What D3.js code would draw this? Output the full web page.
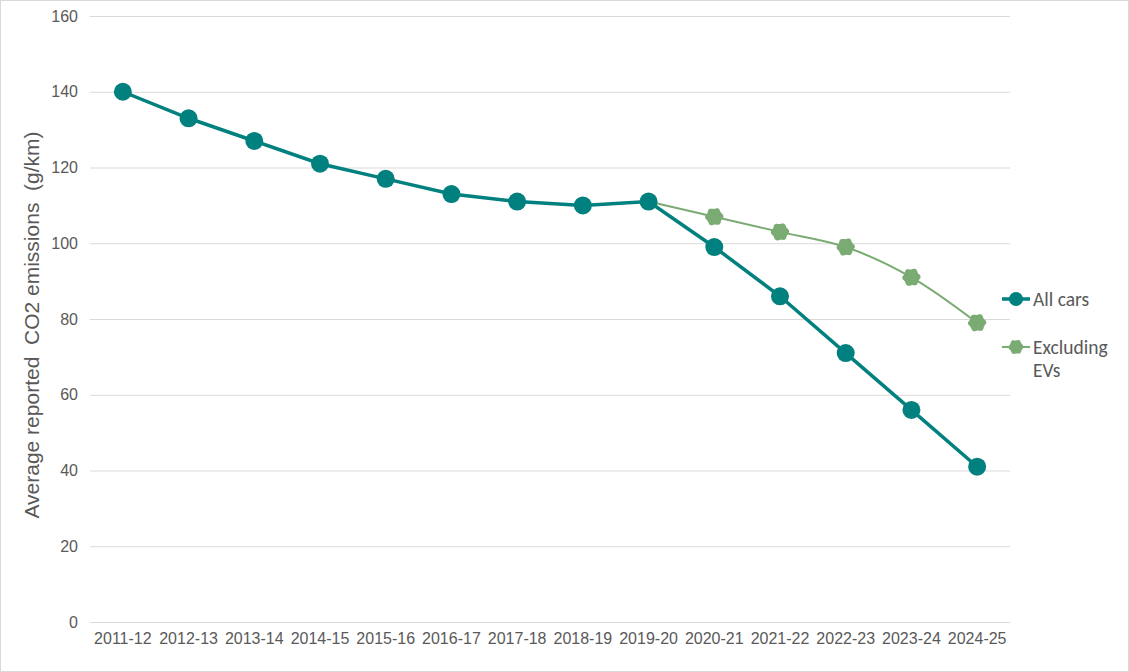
<!DOCTYPE html>
<html>
<head>
<meta charset="utf-8">
<script src="https://cdn.jsdelivr.net/npm/d3@7"></script>
<style>
  body { margin: 0; background: #fff; }
  svg { display: block; }
  .grid line { stroke: #d9d9d9; stroke-width: 1; }
  .axis text { fill: #595959; font-family: "Liberation Sans", Arial, sans-serif; font-size: 16px; }
</style>
</head>
<body>
<svg id="lineChart" width="1129" height="672"></svg>
<script>
const years = ["2011-12","2012-13","2013-14","2014-15","2015-16","2016-17","2017-18",
               "2018-19","2019-20","2020-21","2021-22","2022-23","2023-24","2024-25"];
const allCars = [140,133,127,121,117,113,111,110,111,99,86,71,56,41];
const exclYears = ["2019-20","2020-21","2021-22","2022-23","2023-24","2024-25"];
const exclEVs = [111,107,103,99,91,79];
const yTicks = [0,20,40,60,80,100,120,140,160];

const tealColor = "#00807e";
const greenColor = "#7aab72";

// blobby marker like the office "cloud" points
const blob = (r)=>{
    let pts = [];
    for(let i=0;i<24;i++){
        let a = i/24*Math.PI*2;
        let rr = r*(1+0.09*Math.cos(6*a+0.4));
        pts.push([Math.cos(a)*rr, Math.sin(a)*rr]);
    }
    return d3.line().curve(d3.curveCardinalClosed)(pts);
}

const drawChart = ()=>{
    let svg = d3.select("#lineChart");

    svg.append("rect")
    .attr("x",0.5).attr("y",0.5)
    .attr("width",1128).attr("height",671)
    .attr("fill","#fff").attr("stroke","#d9d9d9");

    let margin = {top:16, left:90, right:119, bottom:50};
    let width = svg.attr("width") - margin.left - margin.right;
    let height = svg.attr("height") - margin.top - margin.bottom;

    let g = svg.append("g").attr("transform","translate("+margin.left+","+margin.top+")");

    let xScale = d3.scaleBand().domain(years).range([0,width]);
    let yScale = d3.scaleLinear().domain([0,160]).range([height,0]);
    let cx = (d)=>xScale(d)+xScale.bandwidth()/2;

    g.append("g")
    .attr("class","grid")
    .selectAll("line")
    .data(yTicks)
    .enter().append("line")
    .attr("x1",0).attr("x2",width)
    .attr("y1",(d)=>yScale(d)+0.5).attr("y2",(d)=>yScale(d)+0.5);

    let yAxis = d3.axisLeft(yScale).tickValues(yTicks).tickSize(0).tickPadding(12);
    g.append("g").attr("class","y axis").call(yAxis).call((a)=>a.select(".domain").remove());

    let xAxis = d3.axisBottom(xScale).tickSize(0).tickPadding(11);
    g.append("g").attr("class","x axis")
    .attr("transform","translate(0,"+height+")")
    .call(xAxis).call((a)=>a.select(".domain").remove());

    g.append("text")
    .attr("transform","translate("+(-51)+","+(height/2+6)+") rotate(-90)")
    .attr("text-anchor","middle")
    .attr("font-family","Liberation Sans, Arial, sans-serif")
    .attr("font-size","21px")
    .attr("fill","#595959")
    .style("white-space","pre")
    .text("Average reported  CO2 emissions  (g/km)");

    // excluding EVs (smoothed)
    let exclData = exclYears.map((y,i)=>[y,exclEVs[i]]);
    let smooth = d3.line().x((d)=>cx(d[0])).y((d)=>yScale(d[1])).curve(d3.curveCatmullRom.alpha(0.5));
    g.append("path")
    .datum(exclData)
    .attr("d",smooth)
    .attr("fill","none").attr("stroke",greenColor).attr("stroke-width",2);

    // all cars
    let allData = years.map((y,i)=>[y,allCars[i]]);
    let line = d3.line().x((d)=>cx(d[0])).y((d)=>yScale(d[1]));
    g.append("path")
    .datum(allData)
    .attr("d",line)
    .attr("fill","none").attr("stroke",tealColor).attr("stroke-width",3.5);

    g.selectAll(".allpt")
    .data(allData)
    .enter().append("circle")
    .attr("class","allpt")
    .attr("cx",(d)=>cx(d[0])).attr("cy",(d)=>yScale(d[1]))
    .attr("r",9).attr("fill",tealColor);

    g.selectAll(".exclpt")
    .data(exclData.slice(1))
    .enter().append("path")
    .attr("class","exclpt")
    .attr("transform",(d)=>"translate("+cx(d[0])+","+yScale(d[1])+")")
    .attr("d",blob(8.5)).attr("fill",greenColor);

    // legend
    let legend = svg.append("g").attr("font-family","Carlito, Open Sans, sans-serif").attr("font-size","19.5px").attr("fill","#595959");
    let l1 = legend.append("g").attr("transform","translate(1002,299)");
    l1.append("line").attr("x1",0).attr("x2",28).attr("stroke",tealColor).attr("stroke-width",3.5);
    l1.append("circle").attr("cx",14).attr("r",7).attr("fill",tealColor);
    l1.append("text").attr("x",31).attr("dy","0.35em").text("All cars");

    let l2 = legend.append("g").attr("transform","translate(1002,347)");
    l2.append("line").attr("x1",0).attr("x2",28).attr("stroke",greenColor).attr("stroke-width",2);
    l2.append("path").attr("transform","translate(14,0)").attr("d",blob(7)).attr("fill",greenColor);
    l2.append("text").attr("x",31).attr("dy","0.35em").text("Excluding");
    l2.append("text").attr("x",31).attr("y",23).attr("dy","0.35em").text("EVs");
}

drawChart();
</script>
</body>
</html>
